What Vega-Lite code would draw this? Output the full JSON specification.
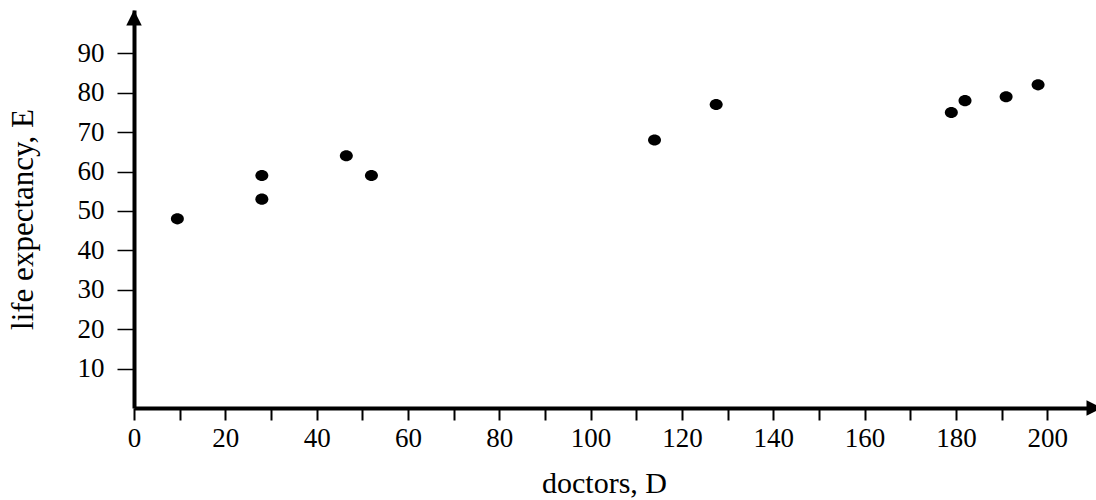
{
  "$schema": "https://vega.github.io/schema/vega-lite/v6.json",
  "width": 968,
  "height": 398,
  "autosize": {"type": "none"},
  "padding": {"left": 134, "top": 10, "right": 0, "bottom": 92},
  "background": "white",
  "config": {
    "view": {"stroke": null},
    "font": "Liberation Serif",
    "axis": {
      "grid": false,
      "domainColor": "black",
      "tickColor": "black",
      "labelColor": "black",
      "titleColor": "black",
      "labelFont": "Liberation Serif",
      "titleFont": "Liberation Serif",
      "labelFontSize": 27,
      "titleFontSize": 30,
      "titleFontWeight": "normal",
      "domainWidth": 4
    }
  },
  "layer": [
    {
      "data": {
        "values": [
          {"doctors": 9.5, "life": 48},
          {"doctors": 28, "life": 59},
          {"doctors": 28, "life": 53},
          {"doctors": 46.5, "life": 64},
          {"doctors": 52, "life": 59},
          {"doctors": 114, "life": 68},
          {"doctors": 127.5, "life": 77},
          {"doctors": 179, "life": 75},
          {"doctors": 182, "life": 78},
          {"doctors": 191, "life": 79},
          {"doctors": 198, "life": 82}
        ]
      },
      "mark": {
        "type": "point",
        "filled": true,
        "color": "black",
        "opacity": 1,
        "size": 169,
        "shape": "M -1 0 A 1 0.85 0 1 0 1 0 A 1 0.85 0 1 0 -1 0 Z"
      },
      "encoding": {
        "x": {
          "field": "doctors",
          "type": "quantitative",
          "scale": {"domain": [0, 212], "nice": false, "zero": false},
          "axis": {
            "values": [0, 10, 20, 30, 40, 50, 60, 70, 80, 90, 100, 110, 120, 130, 140, 150, 160, 170, 180, 190, 200],
            "labelExpr": "datum.value % 20 === 0 ? datum.label : ''",
            "tickSize": 12,
            "tickWidth": 2,
            "labelPadding": 5,
            "labelDx": -5,
            "labelFlush": false,
            "labelOverlap": false,
            "title": "doctors, D",
            "titleX": 470,
            "titleY": 84,
            "titleBaseline": "alphabetic"
          }
        },
        "y": {
          "field": "life",
          "type": "quantitative",
          "scale": {"domain": [0, 101], "nice": false, "zero": false},
          "axis": {
            "values": [10, 20, 30, 40, 50, 60, 70, 80, 90],
            "tickSize": 17,
            "tickWidth": 1.5,
            "labelPadding": 13,
            "labelDy": 5,
            "labelFlush": false,
            "labelOverlap": false,
            "title": "life expectancy, E",
            "titleFontSize": 31,
            "titleX": -102,
            "titleY": 209,
            "titleAngle": 270,
            "titleBaseline": "alphabetic"
          }
        }
      }
    },
    {
      "data": {"values": [{"doctors": 0, "life": 101}]},
      "mark": {"type": "point", "filled": true, "color": "black", "opacity": 1, "strokeWidth": 0, "size": 240, "shape": "M 0 0 L 1 2 L -1 2 Z"},
      "encoding": {
        "x": {"field": "doctors", "type": "quantitative"},
        "y": {"field": "life", "type": "quantitative"}
      }
    },
    {
      "data": {"values": [{"doctors": 212, "life": 0}]},
      "mark": {"type": "point", "filled": true, "color": "black", "opacity": 1, "strokeWidth": 0, "size": 240, "shape": "M 0 0 L -2 -1 L -2 1 Z"},
      "encoding": {
        "x": {"field": "doctors", "type": "quantitative"},
        "y": {"field": "life", "type": "quantitative"}
      }
    }
  ]
}
